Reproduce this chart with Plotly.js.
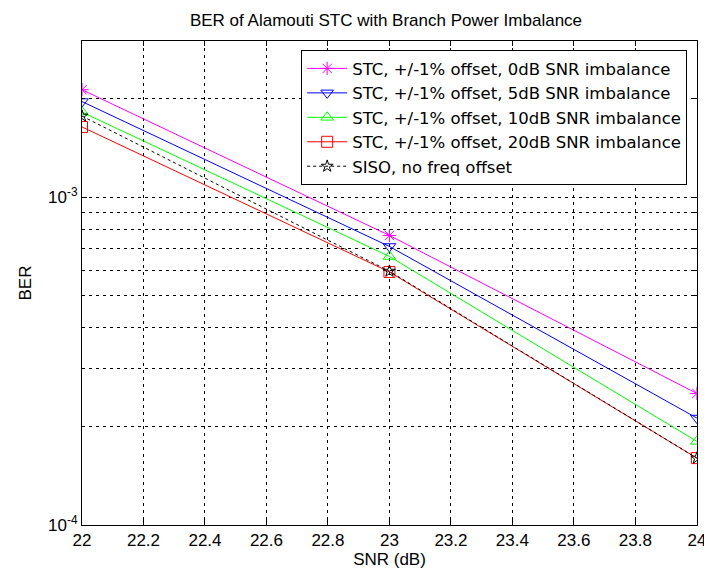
<!DOCTYPE html>
<html><head><meta charset="utf-8">
<script src="https://cdn.plot.ly/plotly-3.0.1.min.js"></script>
<style>body{margin:0;background:#fff}#g{width:704px;height:573px}</style>
</head><body><div id="g"></div>
<script>
const snr = [22, 23, 24];
const ber0dB = [2.13e-3, 7.65e-4, 2.52e-4];
const ber5dB = [1.96e-3, 7.08e-4, 2.12e-4];
const ber10dB = [1.82e-3, 6.6e-4, 1.80e-4];
const ber20dB = [1.64e-3, 5.92e-4, 1.60e-4];
const berSISO = [1.77e-3, 5.95e-4, 1.60e-4];
const names = ["STC, +/-1% offset, 0dB SNR imbalance","STC, +/-1% offset, 5dB SNR imbalance","STC, +/-1% offset, 10dB SNR imbalance","STC, +/-1% offset, 20dB SNR imbalance","SISO, no freq offset"];
const xTickVals = [22,22.2,22.4,22.6,22.8,23,23.2,23.4,23.6,23.8,24];
const xTickText = ["22","22.2","22.4","22.6","22.8","23","23.2","23.4","23.6","23.8","24"];
const yTickVals = [1e-4,1e-3];
const yTickText = ["10<sup>-4</sup>","10<sup>-3</sup>"];
const yMinorVals = [2e-4,3e-4,4e-4,5e-4,6e-4,7e-4,8e-4,9e-4,2e-3,3e-3];

const series = [ber0dB, ber5dB, ber10dB, ber20dB, berSISO];
const colors = ["#ff00ff","#0000ff","#00ff00","#ff0000","#000000"];
const symbols = ["asterisk-open","triangle-down-open","triangle-up-open","square-open","star-open"];
const traces = series.map((s,i)=>({
  x: snr, y: s, name: names[i], type:'scatter', mode:'lines+markers',
  line:{color:colors[i], width:1, dash: i===4?'3px,3px':'solid'},
  marker:{symbol:symbols[i], size: i===4?9:11, color:colors[i], line:{color:colors[i], width:1}}
}));
const gd = '3px,4px';
const layout = {
  width:704, height:573, paper_bgcolor:'#fff', plot_bgcolor:'#fff',
  margin:{l:82, r:7, t:41, b:48},
  font:{family:'Liberation Sans, Arial, sans-serif', size:17, color:'#000'},
  showlegend:true,
  title:{text:'BER of Alamouti STC with Branch Power Imbalance', font:{size:17}, x:386/704, xanchor:'center', xref:'container', y:1-20/573, yref:'container', yanchor:'middle'},
  xaxis:{range:[22,24.0004], tickmode:'array', tickvals:xTickVals, ticktext:xTickText, ticklabeloverflow:'allow',
    showgrid:true, gridcolor:'#000', griddash:gd, gridwidth:1,
    zeroline:false, showline:true, linecolor:'#000', linewidth:1, mirror:'ticks', ticks:'inside', ticklen:5, tickcolor:'#000',
    title:{text:'SNR (dB)', font:{size:17}, standoff:2}, tickfont:{size:17}},
  yaxis:{type:'log', range:[-4, Math.log10(3e-3)], tickmode:'array', tickvals:yTickVals, ticktext:yTickText,
    showgrid:true, gridcolor:'#000', griddash:gd, gridwidth:1,
    minor:{tickmode:'array', tickvals:yMinorVals, showgrid:true, gridcolor:'#000', griddash:gd, gridwidth:1, ticks:'inside', ticklen:3, tickcolor:'#000'},
    zeroline:false, showline:true, linecolor:'#000', linewidth:1, mirror:'ticks', ticks:'inside', ticklen:5, tickcolor:'#000',
    title:{text:'BER', font:{size:17}, standoff:12}, tickfont:{size:17}},
  legend:{x:0.984, xanchor:'right', y:0.981, yanchor:'top', bgcolor:'#fff', bordercolor:'#000', borderwidth:1,
    font:{family:'DejaVu Sans, sans-serif', size:16.5}, tracegroupgap:0, itemwidth:40}
};
Plotly.newPlot('g', traces, layout, {displayModeBar:false, staticPlot:true});
</script></body></html>
